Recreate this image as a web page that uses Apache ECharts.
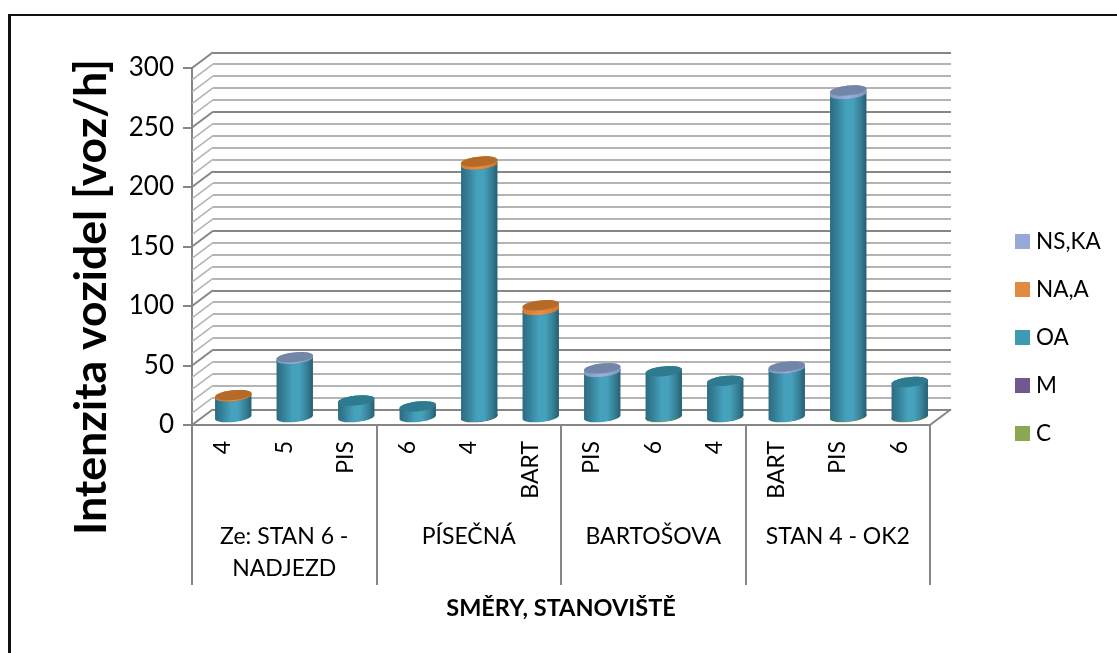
<!DOCTYPE html>
<html>
<head>
<meta charset="utf-8">
<style>html,body{margin:0;padding:0;background:#fff}#c{width:1117px;height:653px}</style>
<script src="https://cdn.jsdelivr.net/npm/echarts@6/dist/echarts.min.js"></script>
</head>
<body>
<div id="c"></div>
<script>
var stations = ['4','5','PIS','6','4','BART','PIS','6','4','BART','PIS','6'];
var directions = ['Ze: STAN 6 -\nNADJEZD','PÍSEČNÁ','BARTOŠOVA','STAN 4 - OK2'];
var valuesC  = [0,0,0,0,0,0,0,0.5,0,0,0.5,0.5];
var valuesM  = [0,0,0,0,0.3,0,0,0,0,0,0,0];
var valuesOA = [17.5,49,14,9,212,90,38,38,30.5,41,271,29];
var valuesNA = [1,0,0,0,2.5,4,0,0,0,0,0,0];
var valuesNS = [0,1.3,0,0,0,0,3,0,0,1.5,3,0];
var yTicks = [0,10,20,30,40,50,60,70,80,90,100,110,120,130,140,150,160,170,180,190,200,210,220,230,240,250,260,270,280,290,300];
var yTitle = 'Intenzita vozidel [voz/h]';
var xTitle = 'SMĚRY, STANOVIŠTĚ';

var GREY = '#868686', LIGHT = '#b4b4b4';
var DX = 21, DY = -15.75, RX = 18.3, RY = 4.9, TILT = 6 * Math.PI / 180;

function ellipsePoint(cx, cy, t) {
  return [
    cx + RX * Math.cos(t) * Math.cos(TILT) + RY * Math.sin(t) * Math.sin(TILT),
    cy - RX * Math.cos(t) * Math.sin(TILT) + RY * Math.sin(t) * Math.cos(TILT)
  ];
}
function bodyGradient(stops) {
  return { type: 'linear', x: 0, y: 0, x2: 1, y2: 0, colorStops: stops };
}
var looks = {
  'C': { body: bodyGradient([{offset:0,color:'#6e8a3c'},{offset:.5,color:'#a4c35a'},{offset:1,color:'#66803a'}]), cap: '#6f8a3e' },
  'M': { body: bodyGradient([{offset:0,color:'#57426f'},{offset:.5,color:'#7c5fa0'},{offset:1,color:'#4f3c66'}]), cap: '#5b4476' },
  'OA': { body: bodyGradient([{offset:0,color:'#2b6c80'},{offset:.18,color:'#347f97'},{offset:.45,color:'#46a2bc'},{offset:.62,color:'#46a2bc'},{offset:.85,color:'#357e94'},{offset:1,color:'#275e70'}]), cap: '#2e7a8e' },
  'NA,A': { body: bodyGradient([{offset:0,color:'#d27a32'},{offset:.5,color:'#ea8f42'},{offset:1,color:'#c9742e'}]), cap: '#b56a28' },
  'NS,KA': { body: bodyGradient([{offset:0,color:'#8298c0'},{offset:.5,color:'#9ab0da'},{offset:1,color:'#7f94ba'}]), cap: '#7286a8' }
};

function cylinderRenderer(name) {
  return function (params, api) {
    var idx = api.value(0), from = api.value(1), to = api.value(2);
    if (to - from <= 0) return null;
    var p0 = api.coord([idx, from]), p1 = api.coord([idx, to]);
    var cx = p0[0] + DX / 2;
    var y0 = p0[1] + DY / 2, y1 = p1[1] + DY / 2;
    var pts = [], i, n = 24;
    for (i = 0; i <= n; i++) pts.push(ellipsePoint(cx, y0, Math.PI - Math.PI * i / n));
    for (i = 0; i <= n; i++) pts.push(ellipsePoint(cx, y1, -Math.PI * i / n));
    var cap = [];
    for (i = 0; i < 2 * n; i++) cap.push(ellipsePoint(cx, y1, Math.PI * i / n));
    return { type: 'group', children: [
      { type: 'polygon', shape: { points: pts }, style: { fill: looks[name].body } },
      { type: 'polygon', shape: { points: cap }, style: { fill: looks[name].cap } }
    ]};
  };
}
function stacked(list, below) {
  return list.map(function (v, i) {
    var s = 0;
    below.forEach(function (b) { s += b[i]; });
    return [i, s, s + v];
  });
}
function cylinderSeries(name, legendColor, list, below) {
  return {
    type: 'custom', name: name, xAxisIndex: 0, yAxisIndex: 0, z: 5,
    itemStyle: { color: legendColor },
    encode: { x: 0, y: [1, 2] },
    renderItem: cylinderRenderer(name),
    data: stacked(list, below)
  };
}
var wallSeries = {
  type: 'custom', name: 'walls', xAxisIndex: 0, yAxisIndex: 0, z: 2, silent: true,
  encode: { y: 0 },
  renderItem: function (params, api) {
    var v = api.value(0);
    var cs = params.coordSys;
    var y = api.coord([0, v])[1];
    var major = v % 50 === 0;
    var line = function (x) {
      return { type: 'line', shape: { x1: x, y1: y, x2: x + DX, y2: y + DY },
        style: { stroke: major ? GREY : LIGHT, lineWidth: major ? 2 : 1.6 } };
    };
    var kids = [line(cs.x)];
    if (v === 0) kids.push(line(cs.x + cs.width));
    return { type: 'group', children: kids };
  },
  data: yTicks.map(function (v) { return [v]; })
};

var font = 'Lato, "Noto Sans", sans-serif';
var option = {
  animation: false,
  backgroundColor: '#fff',
  textStyle: { fontFamily: font, color: '#000' },
  grid: [
    { left: 192, width: 738, top: 68, height: 357 },
    { left: 213, width: 738, top: 52.25, height: 357 }
  ],
  legend: {
    orient: 'vertical', left: 1010, top: 225, icon: 'rect',
    itemWidth: 15, itemHeight: 15, itemGap: 25,
    textStyle: { fontFamily: font, fontSize: 22.5, color: '#000', padding: [0, 0, 0, 1] },
    data: ['NS,KA', 'NA,A', 'OA', 'M', 'C']
  },
  xAxis: [
    { type: 'category', gridIndex: 0, data: stations, position: 'bottom',
      axisLine: { show: true, lineStyle: { color: GREY, width: 2 } },
      axisTick: { show: false },
      axisLabel: { interval: 0, rotate: 90, margin: 16, fontFamily: font, fontSize: 23, color: '#000' } },
    { type: 'category', gridIndex: 0, data: directions, position: 'bottom',
      axisLine: { show: false },
      axisTick: { show: true, length: 160, lineStyle: { color: GREY, width: 2 } },
      axisLabel: { interval: 0, margin: 96, lineHeight: 32, fontFamily: font, fontSize: 23, color: '#000' } },
    { type: 'value', gridIndex: 1, min: 0, max: 1, show: false }
  ],
  yAxis: [
    { type: 'value', gridIndex: 0, min: 0, max: 300, interval: 50,
      axisLine: { show: true, lineStyle: { color: GREY, width: 2 } },
      axisTick: { show: true, length: 9, lineStyle: { color: GREY, width: 2 } },
      splitLine: { show: false },
      axisLabel: { margin: 18, padding: [3, 0, 0, 0], fontFamily: font, fontSize: 26, color: '#000' } },
    { type: 'value', gridIndex: 1, min: 0, max: 300, interval: 50,
      axisLine: { show: false }, axisTick: { show: false }, axisLabel: { show: false },
      minorTick: { show: false, splitNumber: 5 },
      splitLine: { show: true, lineStyle: { color: GREY, width: 2 } },
      minorSplitLine: { show: true, lineStyle: { color: LIGHT, width: 2 } } }
  ],
  graphic: [
    { type: 'line', silent: true, shape: { x1: 9, y1: 15, x2: 1117, y2: 15 }, style: { stroke: '#111', lineWidth: 2 } },
    { type: 'line', silent: true, shape: { x1: 9.5, y1: 14, x2: 9.5, y2: 653 }, style: { stroke: '#111', lineWidth: 3 } },
    { type: 'text', silent: true, x: 92, y: 297, rotation: Math.PI / 2,
      style: { text: yTitle, x: 0, y: 0, align: 'center', verticalAlign: 'middle',
        fontFamily: font, fontSize: 44.6, fontWeight: 'bold', fill: '#000' } },
    { type: 'text', silent: true, x: 561, y: 608,
      style: { text: xTitle, x: 0, y: 0, align: 'center', verticalAlign: 'middle',
        fontFamily: font, fontSize: 23.5, fontWeight: 'bold', fill: '#000' } }
  ],
  series: [
    wallSeries,
    cylinderSeries('C', '#8aa850', valuesC, []),
    cylinderSeries('M', '#73578f', valuesM, [valuesC]),
    cylinderSeries('OA', '#3f9ab4', valuesOA, [valuesC, valuesM]),
    cylinderSeries('NA,A', '#e08a42', valuesNA, [valuesC, valuesM, valuesOA]),
    cylinderSeries('NS,KA', '#95aad4', valuesNS, [valuesC, valuesM, valuesOA, valuesNA])
  ]
};
echarts.init(document.getElementById('c')).setOption(option);
</script>
</body>
</html>
